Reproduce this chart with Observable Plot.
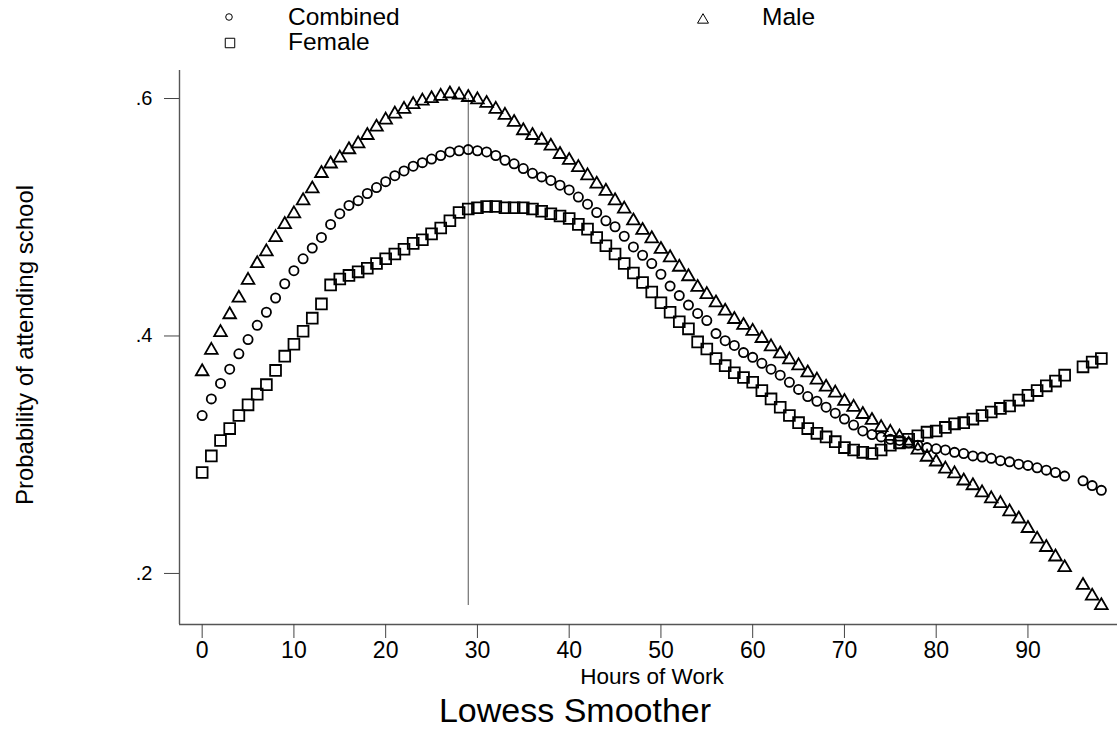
<!DOCTYPE html>
<html><head><meta charset="utf-8">
<script src="https://cdn.jsdelivr.net/npm/d3@7"></script>
<script src="https://cdn.jsdelivr.net/npm/@observablehq/plot@0.6"></script>
<style>
body{margin:0;background:#fff;}
#wrap{position:relative;width:1117px;height:729px;overflow:hidden;font-family:"Liberation Sans",Arial,sans-serif;background:#fff;}
#chart{position:absolute;left:0;top:0;}
#overlay{position:absolute;left:0;top:0;pointer-events:none;}
</style></head><body>
<div id="wrap"><div id="chart"></div><svg id="overlay" width="1117" height="729"></svg></div>
<script>
// ---- data ----
const hours = [0,1,2,3,4,5,6,7,8,9,10,11,12,13,14,15,16,17,18,19,20,21,22,23,24,25,26,27,28,29,30,31,32,33,34,35,36,37,38,39,40,41,42,43,44,45,46,47,48,49,50,51,52,53,54,55,56,57,58,59,60,61,62,63,64,65,66,67,68,69,70,71,72,73,74,75,76,77,78,79,80,81,82,83,84,85,86,87,88,89,90,91,92,93,94,96,97,98];
const combined = [0.333,0.347,0.360,0.372,0.385,0.397,0.409,0.420,0.432,0.444,0.455,0.465,0.474,0.483,0.494,0.503,0.510,0.514,0.520,0.525,0.530,0.535,0.539,0.543,0.546,0.549,0.552,0.555,0.556,0.557,0.556,0.555,0.552,0.548,0.545,0.541,0.537,0.534,0.531,0.527,0.523,0.517,0.511,0.504,0.497,0.492,0.484,0.475,0.468,0.461,0.452,0.442,0.434,0.426,0.419,0.413,0.402,0.396,0.392,0.386,0.382,0.377,0.372,0.367,0.361,0.355,0.349,0.345,0.340,0.335,0.330,0.325,0.320,0.317,0.315,0.313,0.312,0.310,0.308,0.306,0.305,0.304,0.302,0.301,0.299,0.298,0.297,0.295,0.294,0.292,0.291,0.289,0.287,0.285,0.282,0.278,0.274,0.270];
const male = [0.370,0.388,0.403,0.418,0.432,0.447,0.461,0.471,0.483,0.494,0.503,0.514,0.524,0.537,0.545,0.550,0.557,0.562,0.569,0.576,0.582,0.587,0.591,0.595,0.598,0.600,0.602,0.604,0.603,0.601,0.599,0.596,0.591,0.586,0.580,0.573,0.569,0.565,0.560,0.553,0.548,0.542,0.535,0.528,0.522,0.514,0.507,0.497,0.489,0.482,0.473,0.466,0.458,0.450,0.441,0.435,0.428,0.421,0.414,0.409,0.404,0.398,0.391,0.385,0.380,0.375,0.369,0.363,0.357,0.352,0.345,0.340,0.334,0.329,0.323,0.319,0.315,0.309,0.304,0.298,0.294,0.288,0.284,0.278,0.274,0.268,0.263,0.259,0.252,0.246,0.238,0.229,0.222,0.214,0.205,0.190,0.181,0.173];
const female = [0.285,0.299,0.312,0.322,0.333,0.342,0.351,0.359,0.371,0.383,0.393,0.404,0.415,0.427,0.443,0.448,0.451,0.454,0.457,0.461,0.465,0.469,0.473,0.478,0.481,0.486,0.491,0.497,0.504,0.507,0.508,0.509,0.509,0.508,0.508,0.508,0.507,0.505,0.503,0.501,0.499,0.494,0.490,0.483,0.476,0.469,0.461,0.453,0.445,0.437,0.428,0.420,0.412,0.406,0.395,0.389,0.381,0.375,0.369,0.365,0.361,0.354,0.347,0.340,0.333,0.327,0.322,0.318,0.315,0.311,0.306,0.304,0.302,0.301,0.304,0.308,0.310,0.313,0.316,0.319,0.320,0.323,0.326,0.327,0.330,0.333,0.336,0.339,0.341,0.346,0.350,0.354,0.358,0.362,0.367,0.374,0.378,0.381];
const seriesNames = ["Combined", "Male", "Female"];
const seriesSymbols = ["circle", "triangle", "square"];
const xTicks = [0,10,20,30,40,50,60,70,80,90];
const yTicks = [0.2,0.4,0.6];
const refHour = 29;
const refSpan = [0.173, 0.6];
const xDomain = [-2.47, 99.76];
const yDomain = [0.157, 0.6236];
const xLabel = "Hours of Work";
const yLabel = "Probability of attending school";
const title = "Lowess Smoother";

const toRows = (vals) => hours.map((h, i) => ({hours: h, p: vals[i]}));
const font = '"Liberation Sans", Arial, sans-serif';

const chart = Plot.plot({
  width: 1117, height: 729,
  marginLeft: 179, marginRight: 0, marginTop: 70, marginBottom: 105,
  style: {fontFamily: font, fontSize: "23px", color: "#000", background: "#fff"},
  x: {domain: xDomain},
  y: {domain: yDomain},
  marks: [
    Plot.ruleY([yDomain[0]], {stroke: "#555", strokeWidth: 1.4}),
    Plot.ruleX([xDomain[0]], {stroke: "#555", strokeWidth: 1.4}),
    Plot.axisX({ticks: xTicks, tickSize: 14, tickPadding: 3, fontSize: 23, label: null, stroke: "#444"}),
    Plot.axisY({ticks: yTicks, tickSize: 15, tickPadding: 12, fontSize: 20, label: null, stroke: "#444",
      tickFormat: d => d3.format(".1f")(d).replace(/^0/, "")}),
    Plot.ruleX([refHour], {y1: refSpan[0], y2: refSpan[1], stroke: "#555", strokeWidth: 1}),
    Plot.dot(toRows(female), {x: "hours", y: "p", symbol: seriesSymbols[2], r: 6.1, stroke: "#000", strokeWidth: 1.8, fill: "none"}),
    Plot.dot(toRows(combined), {x: "hours", y: "p", symbol: seriesSymbols[0], r: 4.6, stroke: "#000", strokeWidth: 1.8, fill: "none"}),
    Plot.dot(toRows(male), {x: "hours", y: "p", symbol: seriesSymbols[1], r: 4.7, stroke: "#000", strokeWidth: 1.8, fill: "none"})
  ]
});
document.getElementById("chart").appendChild(chart);

// ---- legend, axis titles and title ----
const ov = d3.select("#overlay").style("font-family", font);
const legendItems = [
  {name: seriesNames[0], sym: d3.symbolCircle, size: 34, sx: 229, sy: 17, tx: 288, ty: 25},
  {name: seriesNames[2], sym: d3.symbolSquare, size: 90, sx: 230, sy: 43, tx: 288, ty: 50},
  {name: seriesNames[1], sym: d3.symbolTriangle, size: 52, sx: 703, sy: 20, tx: 762, ty: 25}
];
for (const it of legendItems) {
  ov.append("path").attr("d", d3.symbol(it.sym, it.size)())
    .attr("transform", `translate(${it.sx},${it.sy})`)
    .attr("fill", "none").attr("stroke", "#000").attr("stroke-width", 1);
  ov.append("text").attr("x", it.tx).attr("y", it.ty).attr("font-size", 24.5).attr("fill", "#000").text(it.name);
}
ov.append("text").attr("x", 652).attr("y", 684).attr("text-anchor", "middle").attr("font-size", 22.5).text(xLabel);
ov.append("text").attr("transform", "translate(33,345) rotate(-90)").attr("text-anchor", "middle").attr("font-size", 24).text(yLabel);
ov.append("text").attr("x", 575).attr("y", 722).attr("text-anchor", "middle").attr("font-size", 34).text(title);
</script>
</body></html>
